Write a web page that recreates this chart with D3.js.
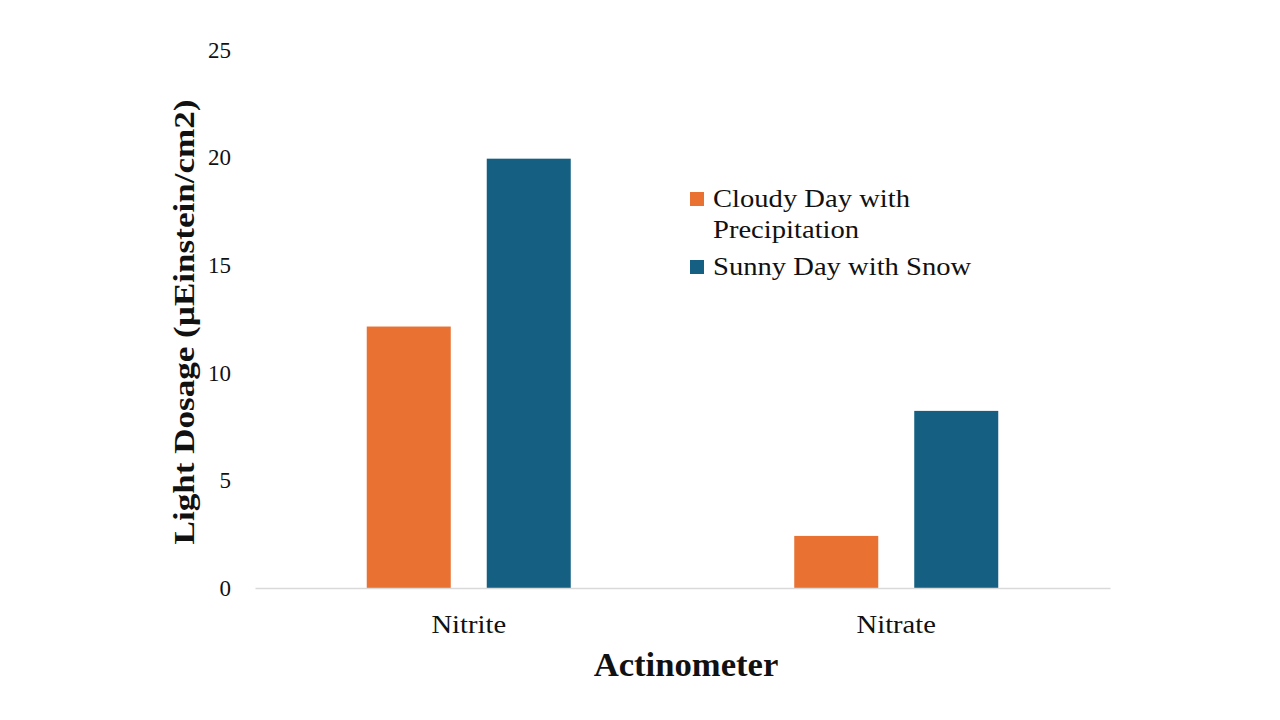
<!DOCTYPE html>
<html>
<head>
<meta charset="utf-8">
<script src="https://cdn.jsdelivr.net/npm/d3@7"></script>
<style>
  body { margin: 0; background: #fff; }
  text { font-family: "Liberation Serif", "Times New Roman", serif; fill: #111; }
</style>
</head>
<body>
<div id="chart-area"></div>
<script>
// data
var categories = ["Nitrite", "Nitrate"];
var seriesNames = ["Cloudy Day with Precipitation", "Sunny Day with Snow"];
var cloudyValues = [12.15, 2.42];
var sunnyValues = [19.95, 8.23];
var yTicks = [0, 5, 10, 15, 20, 25];
var colors = ["#E97132", "#156082"];

var margin = { top: 50, bottom: 132, left: 255, right: 170 };
var width = 1280 - margin.left - margin.right;
var height = 720 - margin.top - margin.bottom;

var svg = d3.select("#chart-area").append("svg")
    .attr("width", 1280)
    .attr("height", 720);

var g = svg.append("g")
    .attr("transform", "translate(" + margin.left + " " + margin.top + ")");

// x scale for categories
var x0 = d3.scaleBand()
    .domain(categories)
    .range([0, width]);

// inner scale for the two series
var x1 = d3.scaleBand()
    .domain(seriesNames)
    .range([x0.bandwidth() / 2 - 102, x0.bandwidth() / 2 + 102])
    .paddingInner(0.3);

var y = d3.scaleLinear()
    .domain([0, 25])
    .range([height, 0]);

// y tick labels (no axis line)
var yAxis = g.append("g")
    .call(d3.axisLeft(y).tickValues(yTicks).tickSize(0).tickPadding(24));
yAxis.select(".domain").remove();
yAxis.selectAll("text")
    .attr("font-size", "23px")
    .attr("font-family", "Liberation Serif, serif")
    .attr("fill", "#111");

// bars
var rows = categories.map(function(c, i) {
    return { cat: c, values: [cloudyValues[i], sunnyValues[i]] };
});

var groups = g.selectAll(".group")
    .data(rows).enter()
    .append("g")
    .attr("transform", function(d) { return "translate(" + x0(d.cat) + " 0)"; });

groups.selectAll("rect")
    .data(function(d) {
        return d.values.map(function(v, j) { return { name: seriesNames[j], value: v, i: j }; });
    }).enter()
    .append("rect")
    .attr("x", function(d) { return x1(d.name); })
    .attr("y", function(d) { return y(d.value); })
    .attr("width", x1.bandwidth())
    .attr("height", function(d) { return height - y(d.value); })
    .attr("fill", function(d) { return colors[d.i]; });

// x axis
var xAxis = g.append("g")
    .attr("transform", "translate(0 " + height + ")")
    .call(d3.axisBottom(x0).tickSize(0).tickPadding(0));
xAxis.select(".domain")
    .attr("stroke", "#d9d9d9")
    .attr("stroke-width", 1.5);
xAxis.selectAll("text")
    .attr("font-size", "26px")
    .attr("font-family", "Liberation Serif, serif")
    .attr("fill", "#111")
    .attr("dy", null)
    .attr("y", 0)
    .attr("transform", "translate(0 45) scale(1.1 1)");

// x title
svg.append("text")
    .attr("transform", "translate(686 676) scale(1.05 1)")
    .attr("text-anchor", "middle")
    .attr("font-size", "33px")
    .attr("font-weight", "bold")
    .text("Actinometer");

// y title
svg.append("text")
    .attr("transform", "translate(194 322) rotate(-90) scale(1.17 1)")
    .attr("text-anchor", "middle")
    .attr("font-size", "30px")
    .attr("font-weight", "bold")
    .text("Light Dosage (µEinstein/cm2)");

// legend
var legendLines = [["Cloudy Day with", "Precipitation"], ["Sunny Day with Snow"]];
var legendY = [207, 275];
var legend = svg.append("g");
legendLines.forEach(function(lines, i) {
    legend.append("rect")
        .attr("x", 690)
        .attr("y", legendY[i] - 15)
        .attr("width", 14)
        .attr("height", 14)
        .attr("fill", colors[i]);
    lines.forEach(function(line, k) {
        legend.append("text")
            .attr("transform", "translate(713 " + (legendY[i] + k * 31) + ") scale(1.1 1)")
            .attr("font-size", "26px")
            .text(line);
    });
});
</script>
</body>
</html>
